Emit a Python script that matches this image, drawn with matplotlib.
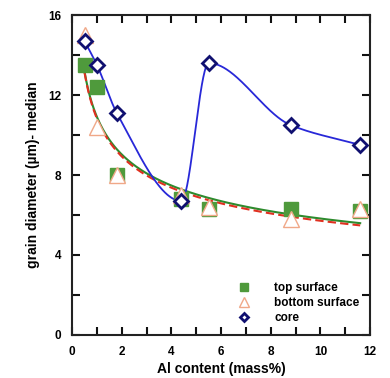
import numpy as np
import matplotlib
matplotlib.use("Agg")
import matplotlib.pyplot as plt
from matplotlib.ticker import MultipleLocator

# data
al_content = [0.5, 1.0, 1.8, 4.4, 5.5, 8.8, 11.6]
top_surface = [13.5, 12.4, 8.0, 6.8, 6.3, 6.3, 6.2]
bottom_surface = [15.0, 10.4, 8.0, 7.0, 6.4, 5.8, 6.3]
core = [14.7, 13.5, 11.1, 6.7, 13.6, 10.5, 9.5]


def power_fit(x, y):
    # y = a * x^b fitted in log space
    b, loga = np.polyfit(np.log(x), np.log(y), 1)
    return np.exp(loga), b


def pchip(x, y, xs):
    # monotone cubic through the core points
    x = np.asarray(x, float)
    y = np.asarray(y, float)
    h = np.diff(x)
    d = np.diff(y) / h
    m = np.zeros_like(y)
    for k in range(1, len(x) - 1):
        if d[k - 1] * d[k] > 0:
            w1 = 2 * h[k] + h[k - 1]
            w2 = h[k] + 2 * h[k - 1]
            m[k] = (w1 + w2) / (w1 / d[k - 1] + w2 / d[k])
    m[0] = d[0]
    m[-1] = d[-1]
    out = np.empty_like(xs)
    for i, xv in enumerate(xs):
        k = min(np.searchsorted(x, xv) - 1, len(x) - 2)
        k = max(k, 0)
        t = (xv - x[k]) / h[k]
        h00 = 2 * t**3 - 3 * t**2 + 1
        h10 = t**3 - 2 * t**2 + t
        h01 = -2 * t**3 + 3 * t**2
        h11 = t**3 - t**2
        out[i] = h00 * y[k] + h10 * h[k] * m[k] + h01 * y[k + 1] + h11 * h[k] * m[k + 1]
    return out


plt.rcParams['font.family'] = ['Liberation Sans', 'DejaVu Sans']
plt.rcParams['font.weight'] = 'bold'

fig = plt.figure(figsize=(3.9, 3.78), dpi=100)
ax = fig.add_axes([0.185, 0.114, 0.764, 0.846])

xs = np.linspace(0.5, 11.6, 300)
a1, b1 = power_fit(al_content, top_surface)
a2, b2 = power_fit(al_content, bottom_surface)
ax.plot(xs, a1 * xs**b1, color='#2e8b2e', lw=1.5, zorder=2)
ax.plot(xs, a2 * xs**b2, color='#e03020', lw=1.5, ls=(0, (4, 2)), zorder=2)

xc = np.linspace(0.5, 11.6, 600)
ax.plot(xc, pchip(al_content, core, xc), color='#2828d8', lw=1.3, zorder=3)

ax.plot(al_content, top_surface, 's', color='#4f9a3c', ms=10, ls='none',
        label='top surface', zorder=4)
ax.plot(al_content, bottom_surface, '^', mfc='white', mec='#f0a888', mew=1.0,
        ms=11, ls='none', label='bottom surface', zorder=5)
ax.plot(al_content, core, 'D', mfc='white', mec='#101070', mew=2.0, ms=7,
        ls='none', label='core', zorder=6)

ax.set_xlim(0, 12)
ax.set_ylim(0, 16)
ax.xaxis.set_major_locator(MultipleLocator(2))
ax.xaxis.set_minor_locator(MultipleLocator(1))
ax.yaxis.set_major_locator(MultipleLocator(4))
ax.yaxis.set_minor_locator(MultipleLocator(2))
ax.tick_params(which='both', direction='in', top=True, right=True,
               labelsize=8.5, width=1.5, color='#111111', pad=8)
ax.tick_params(which='major', length=6)
ax.tick_params(which='minor', length=6)
for s in ax.spines.values():
    s.set_linewidth(1.5)
    s.set_color('#222222')

ax.set_xlabel('Al content (mass%)', fontsize=10, fontweight='bold', labelpad=3)
ax.set_ylabel('grain diameter (\u00b5m)- median', fontsize=10, fontweight='bold', labelpad=6)

leg = ax.legend(loc='lower right', frameon=False, fontsize=8.5, handletextpad=1.6,
                borderaxespad=0.5, labelspacing=0.25, markerscale=0.6)

fig.savefig('out.png', dpi=100)
